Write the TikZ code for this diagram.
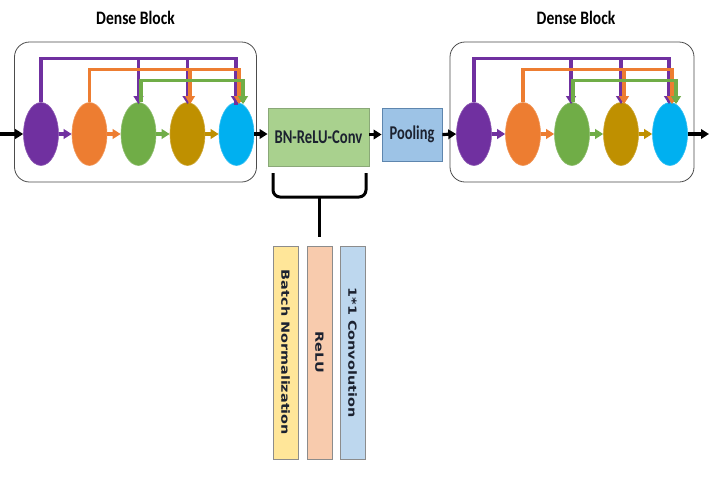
\documentclass[tikz,border=0pt]{standalone}
\usepackage{fontspec}
\newfontfamily\carl{Carlito}
\newfontfamily\dvs{DejaVu Sans}
\usetikzlibrary{arrows.meta,calc,shapes.geometric}
\definecolor{cP}{HTML}{7030A0}
\definecolor{cO}{HTML}{ED7D31}
\definecolor{cG}{HTML}{70AD47}
\definecolor{cY}{HTML}{BF9000}
\definecolor{cC}{HTML}{00B0F0}
\definecolor{bnfill}{HTML}{A9D18E}
\definecolor{bnline}{HTML}{8AA878}
\definecolor{plfill}{HTML}{9DC3E6}
\definecolor{plline}{HTML}{5E86AE}
\definecolor{fa}{HTML}{FFE699}
\definecolor{fb}{HTML}{F8CBAD}
\definecolor{fc}{HTML}{BDD7EE}
\definecolor{ink}{HTML}{1C2230}
\newcommand{\sqz}[2]{\scalebox{#1}[1]{#2}}
\newcommand{\vsqz}[1]{\scalebox{1}[0.78]{#1}}
\tikzset{
  blockbox/.style={draw=black!70,line width=0.8pt,rounded corners=15pt},
  blob/.style={ellipse,minimum width=35pt,minimum height=63pt,inner sep=0pt,draw=#1!80!white,line width=0.6pt,fill=#1},
  conn/.style={draw=#1,line width=3.2pt,-{Triangle[length=8pt,width=9.5pt]}},
  bus/.style={draw=#1,line width=3.2pt},
  blk/.style={draw=black,line width=3.2pt,-{Triangle[length=8pt,width=9.5pt]}},
  title/.style={font=\carl\bfseries\fontsize{19}{19}\selectfont},
  boxfont/.style={font=\carl\bfseries\fontsize{19.5}{19.5}\selectfont,text=ink},
  vbox/.style={draw=black!45,line width=0.6pt,minimum width=25pt,minimum height=213pt,inner sep=0pt},
  vtext/.style={font=\dvs\bfseries\fontsize{14.4}{14.4}\selectfont,rotate=-90,text=ink,inner sep=0pt}
}
\begin{document}
\begin{tikzpicture}[x=1pt,y=-1pt]
\useasboundingbox[fill=white] (0,0) rectangle (709,477);
% ---------- left dense block
\node[title] (t1) at (135.5,17.5) {\sqz{0.82}{Dense Block}};
\node[blockbox,minimum width=242pt,minimum height=140pt,inner sep=0pt] (box1) at (135.5,112) {};
\node[blob=cP] (a1) at (41,134) {};
\node[blob=cO] (a2) at (89.5,134) {};
\node[blob=cG] (a3) at (138.5,134) {};
\node[blob=cY] (a4) at (187.5,134) {};
\node[blob=cC] (a5) at (236.5,134) {};
% ---------- right dense block
\node[title] (t2) at (576,17.5) {\sqz{0.82}{Dense Block}};
\node[blockbox,minimum width=244pt,minimum height=140pt,inner sep=0pt] (box2) at (572,112) {};
\node[blob=cP] (b1) at (474,134) {};
\node[blob=cO] (b2) at (523,134) {};
\node[blob=cG] (b3) at (572,134) {};
\node[blob=cY] (b4) at (621,134) {};
\node[blob=cC] (b5) at (670,134) {};
% ---------- transition
\node[draw=bnline,fill=bnfill,line width=0.8pt,minimum width=101pt,minimum height=58pt,inner sep=0pt,boxfont]
      (bn) at (318.5,137) {\sqz{0.75}{BN-ReLU-Conv}};
\node[draw=plline,fill=plfill,line width=0.8pt,minimum width=60pt,minimum height=53pt,inner sep=0pt,boxfont]
      (pool) at (412,134.5) {\sqz{0.74}{Pooling}};
% ---------- sub boxes
\node[vbox,fill=fa] (v1) at (285.5,352.5) {};
\node[vbox,fill=fb] (v2) at (319.5,352.5) {};
\node[vbox,fill=fc] (v3) at (352.5,352.5) {};
\node[vtext] at (v1) {\vsqz{Batch Normalization}};
\node[vtext] at (v2) {\vsqz{ReLU}};
\node[vtext] at (v3) {\vsqz{1*1 Convolution}};
% ---------- brace
\coordinate (bl) at (273,173);
\coordinate (br) at (366,173);
\coordinate (bm) at (319.5,197);
\draw[line width=3pt,rounded corners=7pt] (bl) |- (bm) -| (br);
\draw[line width=3pt] (bm) -- (v2.north |- 0,237);
% ---------- black flow arrows
\coordinate (in) at (0,134);
\coordinate (out) at (709,134);
\draw[blk] (in) -- (a1.west);
\draw[blk] (a5.east) -- (a5.east -| bn.west);
\draw[blk] (bn.east |- pool.west) -- (pool.west);
\draw[blk] (pool.east) -- (b1.west);
\draw[blk] (b5.east) -- (out);
% ---------- chain arrows, left block
\draw[conn=cP] (a1.east) -- (a2.west);
\draw[conn=cO] (a2.east) -- (a3.west);
\draw[conn=cG] (a3.east) -- (a4.west);
\draw[conn=cY] (a4.east) -- (a5.west);
% buses left
\draw[bus=cP] (a1.north) -- ++(0,-44) coordinate (pa) -| ([xshift=-0.5pt,yshift=-3pt]a5.north);
\draw[conn=cP] (pa -| a3.north) -- ([yshift=-2pt]a3.north);
\draw[conn=cP] (pa -| a4.north) -- ([yshift=-2pt]a4.north);
\draw[conn=cP] ([xshift=-0.5pt]pa -| a5.north) -- ([xshift=-0.5pt,yshift=-2pt]a5.north);
\draw[bus=cO] (a2.north) -- ++(0,-33) coordinate (oa) -| ([xshift=2.5pt]a5.north);
\draw[conn=cO] ([xshift=2.5pt]oa -| a4.north) -- ([xshift=2.5pt,yshift=-2pt]a4.north);
\draw[conn=cO] ([xshift=2.5pt]oa -| a5.north) -- ([xshift=2.5pt,yshift=-2pt]a5.north);
\draw[bus=cG] ([xshift=2.5pt]a3.north) -- ++(0,-22) coordinate (ga) -| ([xshift=6.5pt]a5.north);
\draw[conn=cG] ([xshift=6.5pt]ga -| a5.north) -- ([xshift=6.5pt,yshift=-2pt]a5.north);
% ---------- chain arrows, right block
\draw[conn=cP] (b1.east) -- (b2.west);
\draw[conn=cO] (b2.east) -- (b3.west);
\draw[conn=cG] (b3.east) -- (b4.west);
\draw[conn=cY] (b4.east) -- (b5.west);
% buses right
\draw[bus=cP] (b1.north) -- ++(0,-44) coordinate (pb) -| ([xshift=-1pt]b5.north);
\draw[conn=cP] ([xshift=-1pt]pb -| b3.north) -- ([xshift=-1pt,yshift=-2pt]b3.north);
\draw[conn=cP] (pb -| b4.north) -- ([yshift=-2pt]b4.north);
\draw[conn=cP] ([xshift=-1pt]pb -| b5.north) -- ([xshift=-1pt,yshift=-2pt]b5.north);
\draw[bus=cO] (b2.north) -- ++(0,-33) coordinate (ob) -| ([xshift=2pt]b5.north);
\draw[conn=cO] ([xshift=3pt]ob -| b4.north) -- ([xshift=3pt,yshift=-2pt]b4.north);
\draw[conn=cO] ([xshift=2pt]ob -| b5.north) -- ([xshift=2pt,yshift=-2pt]b5.north);
\draw[bus=cG] ([xshift=1pt]b3.north) -- ++(0,-22) coordinate (gb) -| ([xshift=6pt]b5.north);
\draw[conn=cG] ([xshift=6pt]gb -| b5.north) -- ([xshift=6pt,yshift=-2pt]b5.north);
\end{tikzpicture}
\end{document}
